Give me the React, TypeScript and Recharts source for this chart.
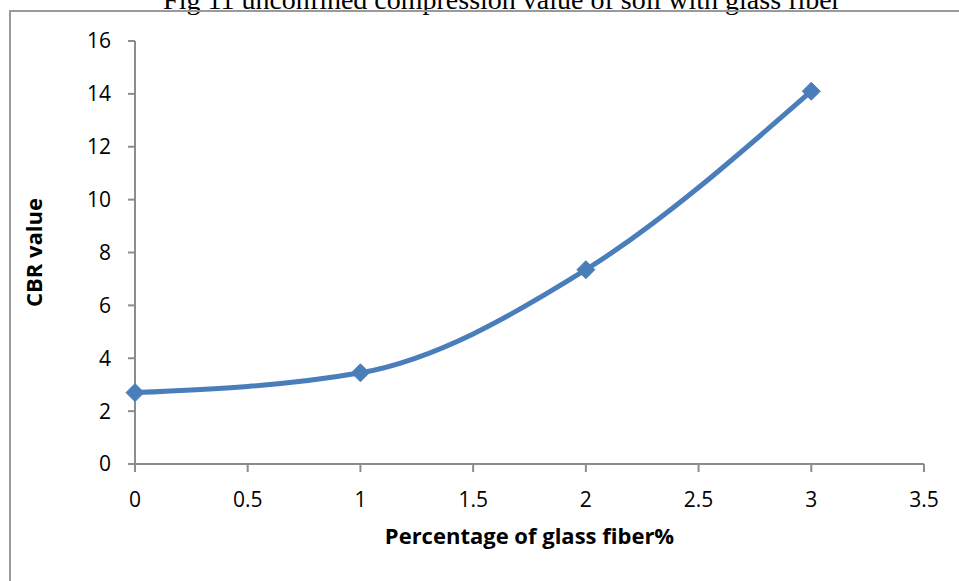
import { LineChart, Line, XAxis, YAxis } from 'recharts';

// glass fiber content (%) and measured CBR values
const fiberPercent = [0, 1, 2, 3];
const cbrValues = [2.7, 3.45, 7.35, 14.1];

const xTicks = [0, 0.5, 1, 1.5, 2, 2.5, 3, 3.5];
const yTicks = [0, 2, 4, 6, 8, 10, 12, 14, 16];

const data = fiberPercent.map((p, i) => ({ fiber: p, cbr: cbrValues[i] }));

const LINE_COLOR = '#4a7ebb';
const AXIS_COLOR = '#8c8c8c';
const FONT = '"Open Sans", "Liberation Sans", sans-serif';

const Diamond = (props: any) => {
  const { cx, cy } = props;
  if (cx == null || cy == null) return null;
  const r = 9;
  return (
    <polygon
      points={`${cx},${cy - r} ${cx + r},${cy} ${cx},${cy + r} ${cx - r},${cy}`}
      fill={LINE_COLOR}
      stroke={LINE_COLOR}
      strokeWidth={1}
    />
  );
};

const tickStyle = { fontFamily: FONT, fontSize: 21, fill: '#000' };

export default function App() {
  return (
    <div style={{ position: 'fixed', left: 0, top: 0, width: 959, height: 581, background: '#fff', overflow: 'hidden' }}>
      <svg width={959} height={30} style={{ position: 'absolute', left: 0, top: 0 }}>
        <text
          x={502}
          y={9}
          textAnchor="middle"
          style={{ fontFamily: '"Liberation Serif", serif', fontSize: 28, fill: '#000' }}
        >
          Fig 11 unconfined compression value  of soil with glass fiber
        </text>
      </svg>
      <div
        style={{
          position: 'absolute',
          left: 9,
          top: 10,
          width: 980,
          height: 600,
          borderLeft: '2px solid #9a9a9a',
          borderTop: '2px solid #9a9a9a',
        }}
      />
      <div style={{ position: 'absolute', left: 0, top: 0 }}>
        <LineChart width={959} height={581} data={data} margin={{ top: 41, right: 35, bottom: 0, left: 0 }}>
          <XAxis
            type="number"
            dataKey="fiber"
            domain={[0, 3.5]}
            ticks={xTicks}
            stroke={AXIS_COLOR}
            strokeWidth={2}
            tickSize={8}
            tick={tickStyle}
            tickMargin={20}
            height={117}
            label={{
              value: 'Percentage of glass fiber%',
              position: 'insideTop',
              offset: 64,
              style: { fontFamily: FONT, fontSize: 22, fontWeight: 700, fill: '#000' },
            }}
          />
          <YAxis
            type="number"
            domain={[0, 16]}
            ticks={yTicks}
            stroke={AXIS_COLOR}
            strokeWidth={2}
            tickSize={7}
            tick={tickStyle}
            tickMargin={17}
            width={135}
            label={{
              value: 'CBR value',
              angle: -90,
              position: 'insideLeft',
              offset: 34,
              style: { textAnchor: 'middle', fontFamily: FONT, fontSize: 22, fontWeight: 700, fill: '#000' },
            }}
          />
          <Line
            type="monotone"
            dataKey="cbr"
            stroke={LINE_COLOR}
            strokeWidth={5}
            dot={<Diamond />}
            activeDot={false}
            isAnimationActive={false}
          />
        </LineChart>
      </div>
    </div>
  );
}
